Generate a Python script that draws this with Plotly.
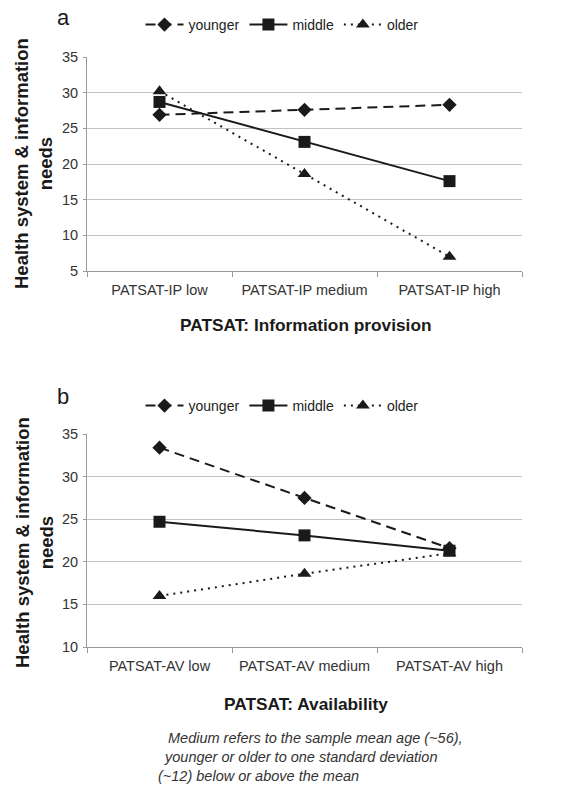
import plotly.graph_objects as go

W, H = 572, 785
ML, MR = 87, 50
PW = W - ML - MR

cats_a = ["PATSAT-IP low", "PATSAT-IP medium", "PATSAT-IP high"]
cats_b = ["PATSAT-AV low", "PATSAT-AV medium", "PATSAT-AV high"]
groups = ["younger", "middle", "older"]

a_younger = [26.9, 27.6, 28.3]
a_middle = [28.7, 23.1, 17.6]
a_older = [30.2, 18.6, 7.0]

b_younger = [33.4, 27.5, 21.6]
b_middle = [24.7, 23.1, 21.3]
b_older = [16.0, 18.6, 21.0]

FONT = "Liberation Sans, Arial, sans-serif"
INK = "#1a1a1a"
GRID = "#c2c2c2"
AXIS = "#9a9a9a"

styles = {
    "younger": dict(dash="10px,6px", symbol="diamond", size=11),
    "middle": dict(dash="solid", symbol="square", size=12),
    "older": dict(dash="2px,5px", symbol="triangle-up", size=12),
}


def px(x):
    return (x - ML) / PW


def py(y):
    return 1 - y / H


fig = go.Figure()

for panel, cats, series, legend in [
    ("a", cats_a, [a_younger, a_middle, a_older], "legend"),
    ("b", cats_b, [b_younger, b_middle, b_older], "legend2"),
]:
    xa = "x" if panel == "a" else "x2"
    ya = "y" if panel == "a" else "y2"
    for g, vals in zip(groups, series):
        s = styles[g]
        fig.add_trace(go.Scatter(
            x=cats, y=vals, name=g, mode="lines+markers",
            xaxis=xa, yaxis=ya, legend=legend,
            line=dict(color=INK, width=2, dash=s["dash"]),
            marker=dict(symbol=s["symbol"], size=s["size"], color=INK),
        ))

axis_common_x = dict(
    type="category", range=[-0.5, 2.5], showgrid=False,
    showline=True, linecolor=AXIS, linewidth=1,
    ticks="outside", tickson="boundaries", ticklen=5, tickcolor=AXIS,
    ticklabelstandoff=6,
    tickfont=dict(family=FONT, size=14.5, color="#333333"),
    automargin=False,
)
axis_common_y = dict(
    showgrid=True, gridcolor=GRID, gridwidth=1.3,
    showline=True, linecolor=AXIS, linewidth=1,
    ticks="outside", ticklen=3, tickcolor=AXIS,
    ticklabelstandoff=2,
    tickfont=dict(family=FONT, size=14.5, color="#333333"),
    zeroline=False, automargin=False,
)

legend_common = dict(
    orientation="h", xref="paper", yref="paper",
    xanchor="center", yanchor="middle",
    font=dict(family=FONT, size=14, color="#222222"),
    bgcolor="rgba(0,0,0,0)", itemwidth=38, tracegroupgap=0,
)

fig.update_layout(
    width=W, height=H,
    margin=dict(l=ML, r=MR, t=0, b=0, autoexpand=False),
    paper_bgcolor="white", plot_bgcolor="white",
    font=dict(family=FONT),
    xaxis=dict(**axis_common_x, domain=[0, 1], anchor="y"),
    yaxis=dict(**axis_common_y, domain=[py(271), py(57)], range=[5, 35],
               tickvals=[5, 10, 15, 20, 25, 30, 35], anchor="x"),
    xaxis2=dict(**axis_common_x, domain=[0, 1], anchor="y2"),
    yaxis2=dict(**axis_common_y, domain=[py(647), py(434)], range=[10, 35],
                tickvals=[10, 15, 20, 25, 30, 35], anchor="x2"),
    legend=dict(**legend_common, x=px(282), y=py(25)),
    legend2=dict(**legend_common, x=px(282), y=py(406)),
    showlegend=True,
)

ann = []
for label, ly in [("a", 18), ("b", 396)]:
    ann.append(dict(text=label, x=px(63), y=py(ly), xref="paper", yref="paper",
                    showarrow=False, xanchor="center", yanchor="middle",
                    font=dict(family=FONT, size=22, color=INK)))

for cy in [(40 + 288) / 2, (418 + 668) / 2]:
    ann.append(dict(text="<b>Health system & information</b><br><b>needs</b>",
                    x=px(34), y=py(cy), xref="paper", yref="paper",
                    showarrow=False, textangle=-90, xanchor="center", yanchor="middle",
                    font=dict(family=FONT, size=18.5, color=INK)))

for t, ty in [("<b>PATSAT: Information provision</b>", 325), ("<b>PATSAT: Availability</b>", 704)]:
    ann.append(dict(text=t, x=px(306), y=py(ty), xref="paper", yref="paper",
                    showarrow=False, xanchor="center", yanchor="middle",
                    font=dict(family=FONT, size=17.3, color=INK)))

notes = [
    ("<i>Medium refers to the sample mean age (~56),</i>", 166, 738),
    ("<i>younger or older to one standard deviation</i>", 162, 757),
    ("<i>(~12) below or above the mean</i>", 156, 776),
]
for t, nx, ny in notes:
    ann.append(dict(text=t, x=px(nx), y=py(ny), xref="paper", yref="paper",
                    showarrow=False, xanchor="left", yanchor="middle",
                    font=dict(family=FONT, size=14.5, color="#333333")))

fig.update_layout(annotations=ann)

fig.write_html(
    "out.html",
    config={"displayModeBar": False},
    post_script="document.body.style.margin='0';document.body.style.overflow='hidden';",
)
